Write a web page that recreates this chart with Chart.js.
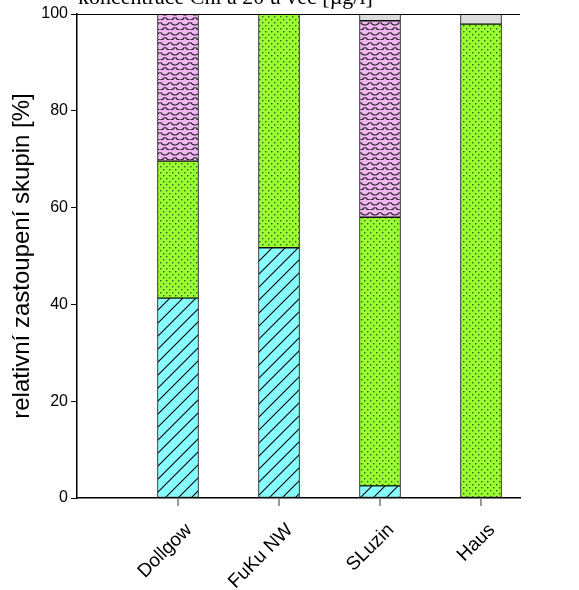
<!DOCTYPE html>
<html>
<head>
<meta charset="utf-8">
<script src="https://cdn.jsdelivr.net/npm/chart.js@4"></script>
<style>
  body { margin: 0; background: #fff; }
  #wrap { width: 579px; height: 590px; }
</style>
</head>
<body>
<div id="wrap"><canvas id="graf"></canvas></div>
<script>
/* relativni zastoupeni skupin */
const lokality = ['Dollgow', 'FuKu NW', 'SLuzin', 'Haus'];
const modre = [41.3, 51.7, 2.5, null];      // srafovane
const zelene = [28.3, 48.3, 55.5, 97.9];    // teckovane
const ruzove = [30.4, null, 40.6, null];    // supiny
const sede = [null, null, 1.4, 2.1];
const yTicks = [0, 20, 40, 60, 80, 100];
const nadpis = 'koncentrace Chl a 20 u vec [µg/l]';

function vzor(w, h, kresli) {
  const c = document.createElement('canvas');
  c.width = w; c.height = h;
  const g = c.getContext('2d');
  kresli(g, w, h);
  return g.createPattern(c, 'repeat');
}

const srafy = vzor(13, 13, (g, w, h) => {
  g.fillStyle = '#88ffff';
  g.fillRect(0, 0, w, h);
  g.strokeStyle = '#000';
  g.lineWidth = 1.1;
  g.beginPath();
  g.moveTo(-1, h + 1); g.lineTo(w + 1, -1);
  g.moveTo(-1, 1); g.lineTo(1, -1);
  g.moveTo(w - 1, h + 1); g.lineTo(w + 1, h - 1);
  g.stroke();
});

const tecky = vzor(6, 6, (g, w, h) => {
  g.fillStyle = '#99ff33';
  g.fillRect(0, 0, w, h);
  g.fillStyle = '#3a5a10';
  g.fillRect(1, 1, 1.4, 1.4);
  g.fillRect(4, 4, 1.4, 1.4);
});

const supiny = vzor(10, 10, (g, w, h) => {
  g.fillStyle = '#f2b6f2';
  g.fillRect(0, 0, w, h);
  g.strokeStyle = '#222';
  g.lineWidth = 1.2;
  g.beginPath();
  g.arc(5, 0, 5, 0.15 * Math.PI, 0.85 * Math.PI);
  g.stroke();
  g.beginPath();
  g.arc(0, 5, 5, 0.15 * Math.PI, 0.6 * Math.PI);
  g.stroke();
  g.beginPath();
  g.arc(10, 5, 5, 0.4 * Math.PI, 0.85 * Math.PI);
  g.stroke();
});

function sada(label, data, fill) {
  return {
    label: label,
    data: data.map((v, i) => ({ x: i + 1, y: v })),
    backgroundColor: fill,
    borderColor: '#111',
    borderWidth: 1,
    borderSkipped: false,
    barThickness: 41
  };
}

const nadpisPlugin = {
  id: 'nadpis',
  afterDraw(chart) {
    const ctx = chart.ctx;
    const a = chart.chartArea;
    const sx = chart.scales.x;
    ctx.save();
    ctx.font = '22px "Liberation Serif"';
    ctx.fillStyle = '#000';
    ctx.textBaseline = 'alphabetic';
    ctx.fillText(nadpis, 78, 4);
    // horni linka
    ctx.strokeStyle = '#000';
    ctx.lineWidth = 1;
    ctx.beginPath();
    ctx.moveTo(a.left, a.top + 0.5);
    ctx.lineTo(a.right, a.top + 0.5);
    ctx.stroke();
    // x znacky a popisky
    ctx.strokeStyle = '#777';
    ctx.lineWidth = 1.5;
    ctx.font = '19px "Liberation Sans"';
    ctx.textAlign = 'right';
    ctx.textBaseline = 'middle';
    lokality.forEach((n, i) => {
      const x = Math.round(sx.getPixelForValue(i + 1));
      ctx.beginPath();
      ctx.moveTo(x, a.bottom + 1);
      ctx.lineTo(x, a.bottom + 8);
      ctx.stroke();
      ctx.save();
      ctx.translate(x + 11, a.bottom + 29);
      ctx.rotate(-Math.PI / 4);
      ctx.fillText(n, 0, 0);
      ctx.restore();
    });
    ctx.restore();
  }
};

new Chart(document.getElementById('graf'), {
  type: 'bar',
  data: {
    datasets: [
      sada('modra', modre, srafy),
      sada('zelena', zelene, tecky),
      sada('ruzova', ruzove, supiny),
      sada('seda', sede, '#dcdcdc')
    ]
  },
  options: {
    responsive: true,
    maintainAspectRatio: false,
    animation: false,
    layout: { padding: { top: 14, right: 59, left: 0, bottom: 0 } },
    plugins: {
      legend: { display: false },
      tooltip: { enabled: false }
    },
    scales: {
      x: {
        type: 'linear',
        stacked: true,
        offset: false,
        min: 0,
        max: 4.386,
        afterBuildTicks: s => { s.ticks = lokality.map((n, i) => ({ value: i + 1 })); },
        afterFit: s => { s.height = 92; },
        grid: { display: false },
        border: { display: true, color: '#000', width: 1.5 },
        ticks: { display: false }
      },
      y: {
        stacked: true,
        min: 0,
        max: 100,
        afterBuildTicks: s => { s.ticks = yTicks.map(v => ({ value: v })); },
        afterFit: s => { s.width = 77; },
        grid: { display: true, drawOnChartArea: false, tickLength: 6, color: '#000' },
        border: { color: '#000', width: 1.5 },
        ticks: {
          color: '#000',
          font: { family: 'Liberation Sans', size: 16 },
          padding: 3
        },
        title: {
          display: true,
          text: 'relativní zastoupení skupin [%]',
          color: '#000',
          font: { family: 'Liberation Sans', size: 24 },
          padding: { top: 8, bottom: 0 }
        }
      }
    }
  },
  plugins: [nadpisPlugin]
});
</script>
</body>
</html>
